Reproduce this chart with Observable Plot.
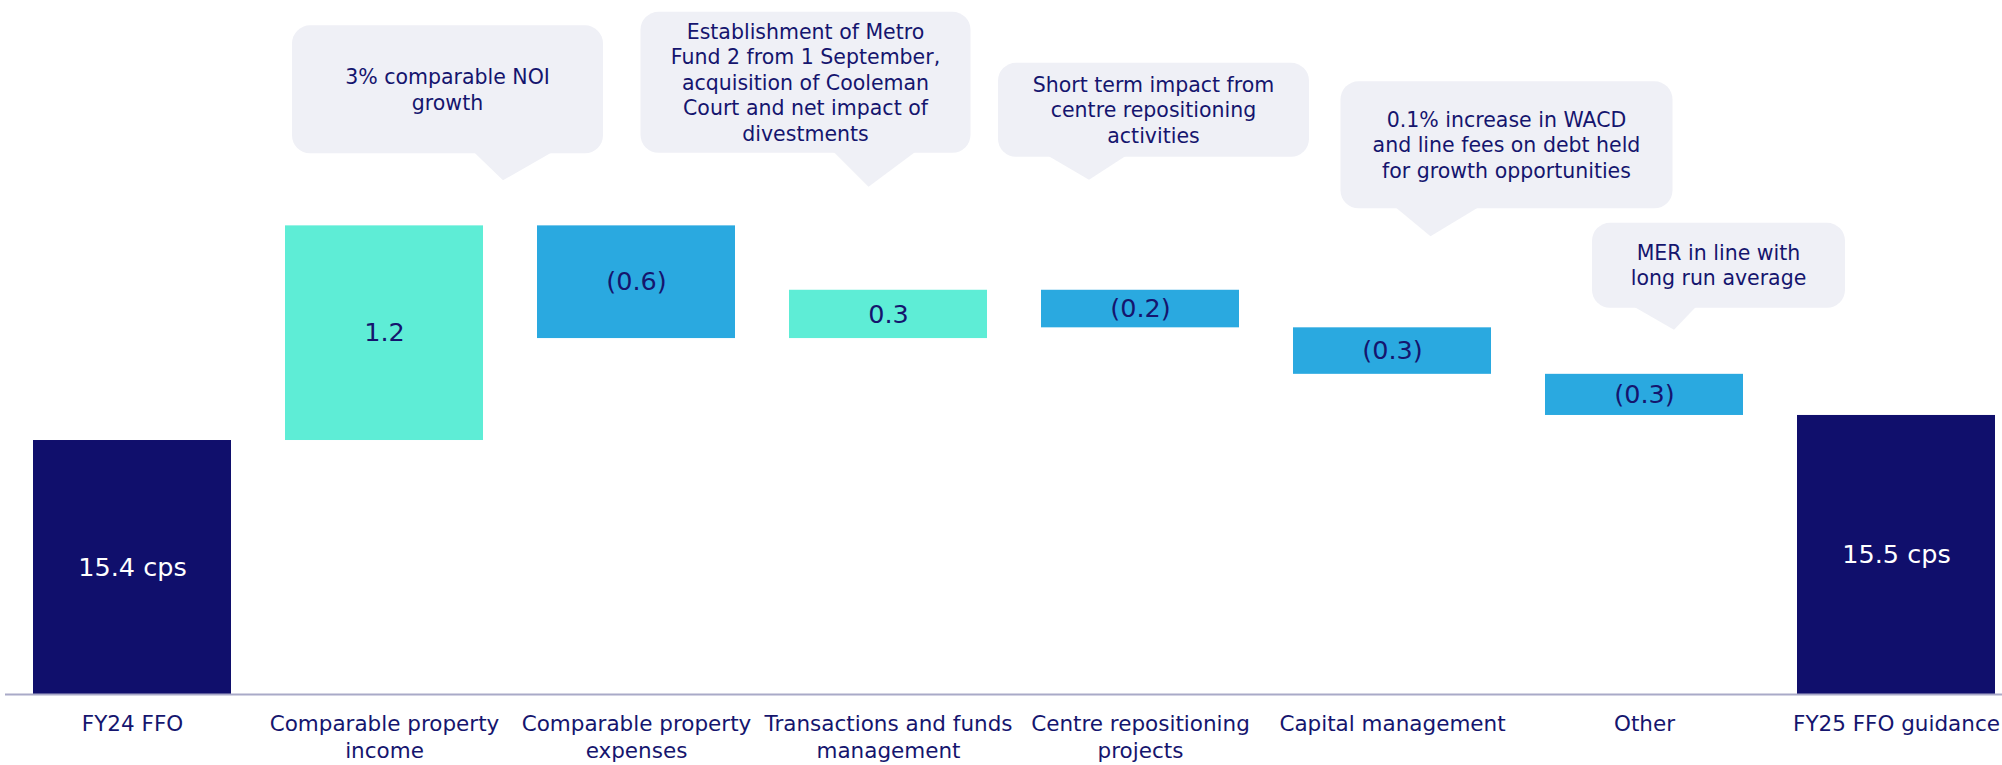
<!DOCTYPE html>
<html><head><meta charset="utf-8">
<script src="https://cdn.jsdelivr.net/npm/d3@7"></script>
<script src="https://cdn.jsdelivr.net/npm/@observablehq/plot@0.6"></script>
<style>
html,body{margin:0;padding:0;background:#fff;}
#chart svg{display:block;}
</style></head><body><div id="chart"></div>
<script>
// ---- data ----
const categories = ["FY24 FFO","Comparable property income","Comparable property expenses","Transactions and funds management","Centre repositioning projects","Capital management","Other","FY25 FFO guidance"];
const tickLabels = ["FY24 FFO","Comparable property\nincome","Comparable property\nexpenses","Transactions and funds\nmanagement","Centre repositioning\nprojects","Capital management","Other","FY25 FFO guidance"];
const kinds = ["total","up","down","up","down","down","down","total"];
const values = [15.4, 1.2, -0.63, 0.27, -0.21, -0.26, -0.23, 15.54];
const valueLabels = ["15.4 cps","1.2","(0.6)","0.3","(0.2)","(0.3)","(0.3)","15.5 cps"];
const calloutCategories = ["Comparable property income","Transactions and funds management","Centre repositioning projects","Capital management","Other"];
const calloutTexts = [
  ["3% comparable NOI","growth"],
  ["Establishment of Metro","Fund 2 from 1 September,","acquisition of Cooleman","Court and net impact of","divestments"],
  ["Short term impact from","centre repositioning","activities"],
  ["0.1% increase in WACD","and line fees on debt held","for growth opportunities"],
  ["MER in line with","long run average"]
];
const axisBase = 13.98;

// ---- styling / annotation layout (pixels, relative to the bar top) ----
const COLORS = {total:"#100f6c", up:"#5eedd6", down:"#2aa9e0"};
const NAVY = "#15156e";
const FONT = "'DejaVu Sans', sans-serif";
// tip dx from band centre, gap above bar top, box [left,right,top,bottom] rel. to tip, pointer base [left,right]
const calloutLayout = [
  {dx:119,  gap:45,  box:[-211,100,-155,-27], base:[-29,49]},
  {dx:-19.5,gap:103, box:[-228,102,-175,-34], base:[-35,47]},
  {dx:-51,  gap:110, box:[-91,220,-117,-23],  base:[-41,37]},
  {dx:38.5, gap:91,  box:[-90,242,-155,-28],  base:[-35,48]},
  {dx:30,   gap:44,  box:[-82,171,-107,-22],  base:[-40,22]}
];

// ---- waterfall rows ----
let run = 0;
const rows = categories.map((c, i) => {
  let lo, hi;
  if (kinds[i] === "total") { lo = axisBase; hi = values[i]; run = values[i]; }
  else { const a = run, b = run + values[i]; lo = Math.min(a,b); hi = Math.max(a,b); run = b; }
  return {cat:c, kind:kinds[i], lo, hi, label:valueLabels[i], color:COLORS[kinds[i]], textColor: kinds[i]==="total" ? "#ffffff" : NAVY};
});

function callouts(index, scales) {
  const g = d3.create("svg:g");
  const x = scales.x, y = scales.y;
  const bw = x.bandwidth ? x.bandwidth() : 0;
  calloutCategories.forEach((c, i) => {
    const row = rows.find(r => r.cat === c);
    const L = calloutLayout[i];
    const tx = x(c) + bw/2 + L.dx;
    const ty = y(row.hi) - L.gap;
    const [bl, br, bt, bb] = L.box;
    const gg = g.append("g").attr("fill", "#eff0f6");
    gg.append("rect").attr("x", tx+bl).attr("y", ty+bt).attr("width", br-bl).attr("height", bb-bt).attr("rx", 18).attr("ry", 18);
    gg.append("path").attr("d", `M${tx+L.base[0]},${ty+bb-1}L${tx},${ty}L${tx+L.base[1]},${ty+bb-1}Z`);
    const lines = calloutTexts[i];
    const lh = 25.5;
    const cx = tx + (bl+br)/2, cy = ty + (bt+bb)/2;
    const t = g.append("text").attr("text-anchor","middle").attr("fill", NAVY)
      .attr("font-size", 20.5).attr("font-family", FONT);
    lines.forEach((s, j) => {
      t.append("tspan").attr("x", cx).attr("y", cy + (j - (lines.length-1)/2)*lh).attr("dy","0.36em").text(s);
    });
  });
  return g.node();
}

const chart = Plot.plot({
  width: 2002, height: 765,
  marginTop: 0, marginBottom: 71, marginLeft: 5, marginRight: 0,
  x: {domain: categories, range: [32, 1996], paddingInner: 0.2143, paddingOuter: 0, align: 0.5},
  y: {domain: [axisBase, 17.86], axis: null},
  color: {type: "identity"},
  style: {fontFamily: FONT, color: NAVY, background: "#fff", overflow: "visible"},
  marks: [
    callouts,
    Plot.barY(rows, {x: "cat", y1: "lo", y2: "hi", fill: "color"}),
    Plot.ruleY([axisBase], {stroke: "#a9aac8", strokeWidth: 2}),
    Plot.text(rows, {x: "cat", y: d => (d.lo + d.hi)/2, text: "label", fill: "textColor", fontSize: 25.5}),
    Plot.axisX({tickSize: 0, tickPadding: 17, fontSize: 21.5, lineHeight: 1.27, label: null,
      tickFormat: d => tickLabels[categories.indexOf(d)]})
  ]
});
document.getElementById("chart").appendChild(chart);
</script></body></html>
